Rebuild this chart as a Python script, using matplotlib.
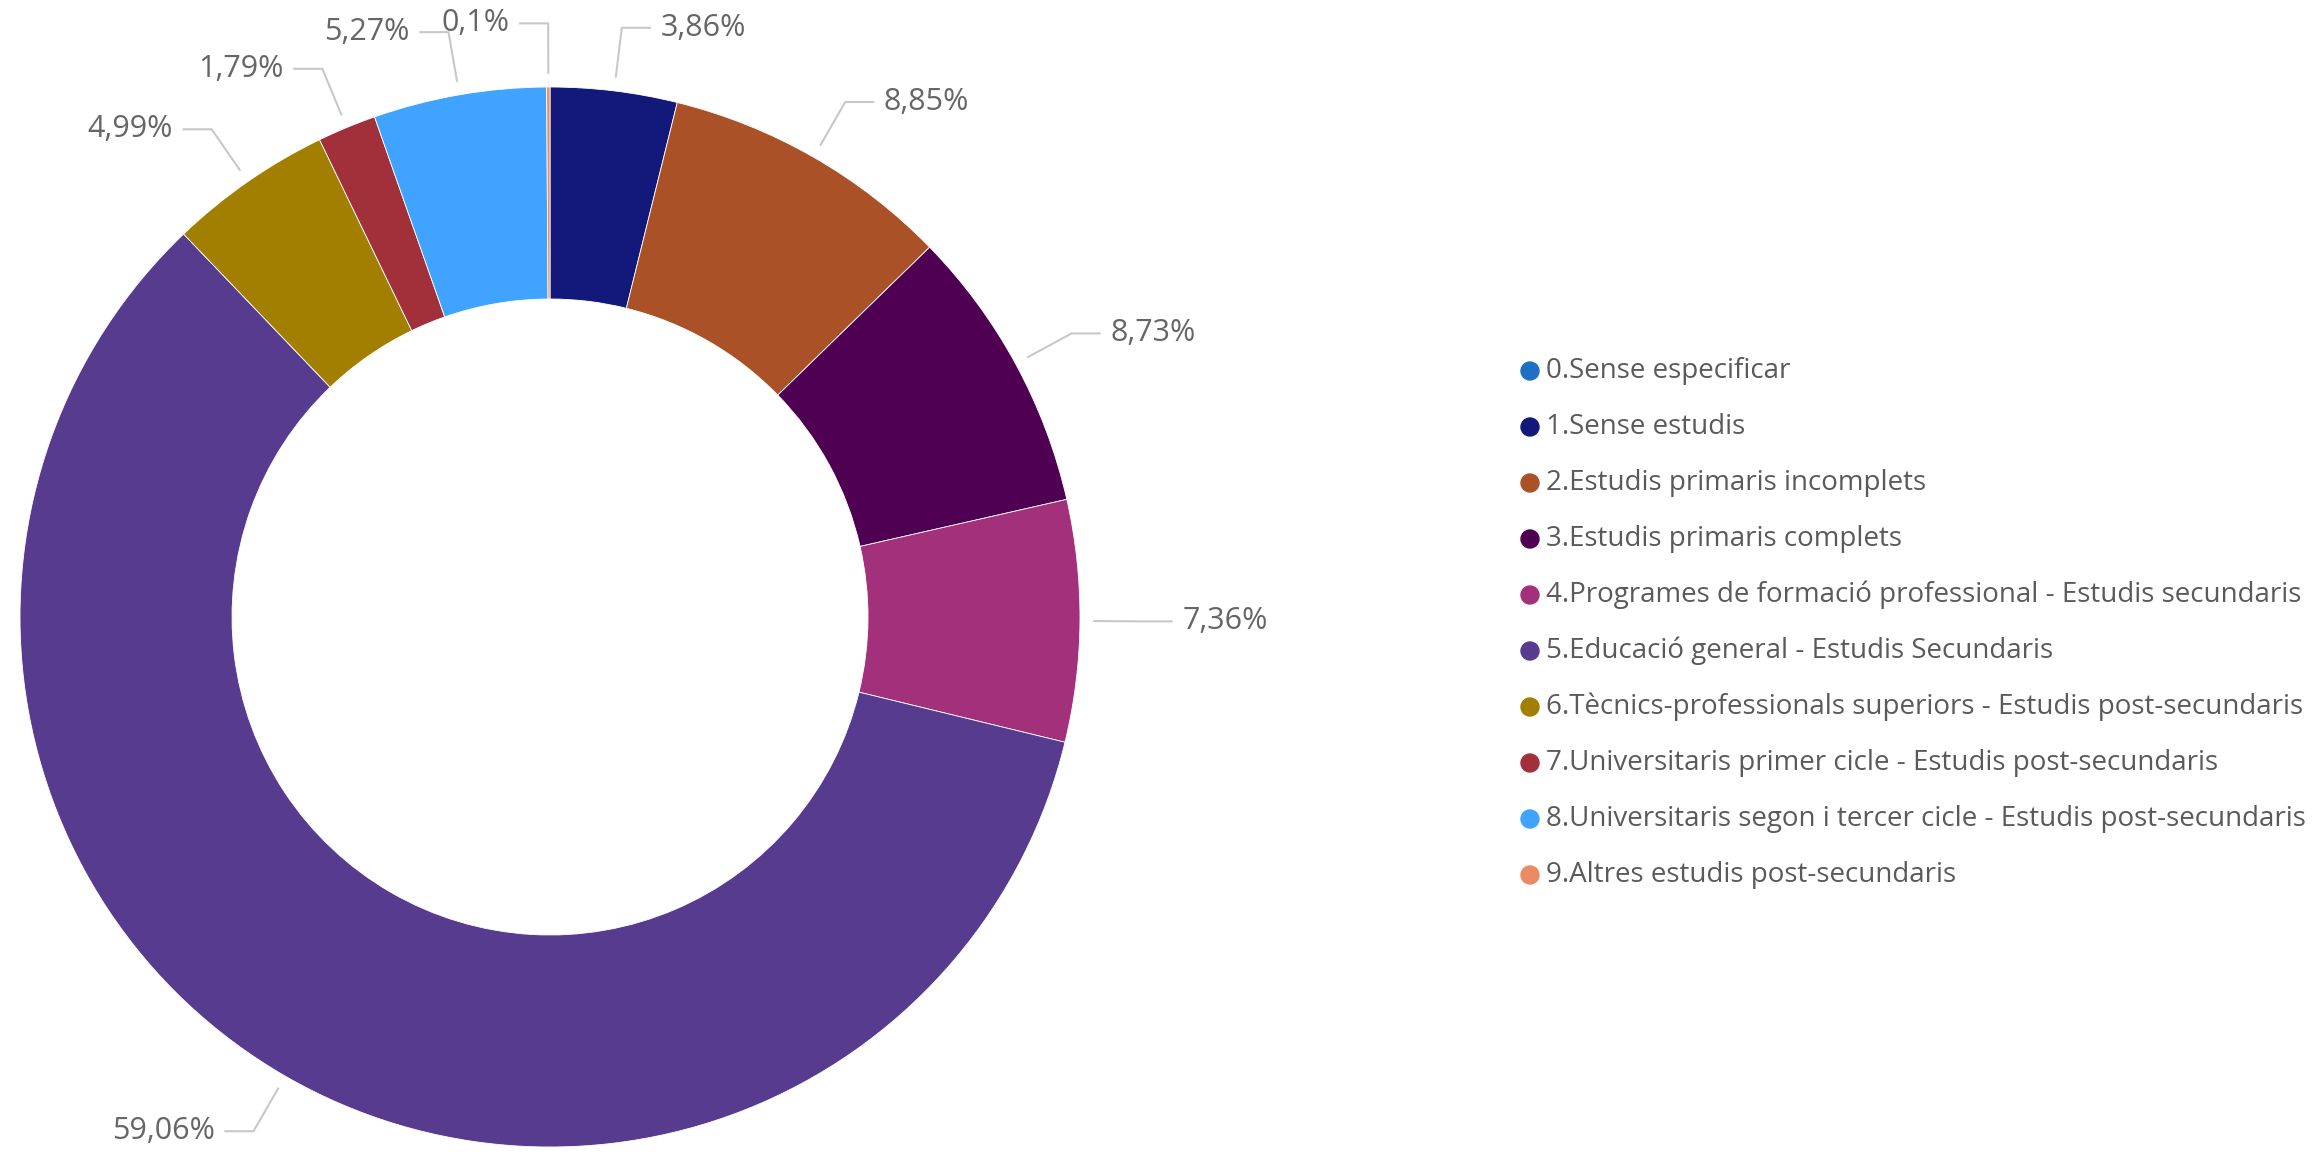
import numpy as np
import matplotlib.pyplot as plt
from matplotlib.patches import Circle

# Dades
categories = ['0.Sense especificar', '1.Sense estudis', '2.Estudis primaris incomplets',
              '3.Estudis primaris complets',
              '4.Programes de formació professional - Estudis secundaris',
              '5.Educació general - Estudis Secundaris',
              '6.Tècnics-professionals superiors - Estudis post-secundaris',
              '7.Universitaris primer cicle - Estudis post-secundaris',
              '8.Universitaris segon i tercer cicle - Estudis post-secundaris',
              '9.Altres estudis post-secundaris']
valors = [0.0, 3.86, 8.85, 8.73, 7.36, 59.06, 4.99, 1.79, 5.27, 0.1]
etiquetes = ['', '3,86%', '8,85%', '8,73%', '7,36%', '59,06%', '4,99%', '1,79%', '5,27%', '0,1%']
colors = ['#1f6fc5', '#12197a', '#ab5127', '#4f0052', '#a3307a',
          '#563b8f', '#a27f00', '#a2303b', '#3fa3ff', '#eb8a63']

W, H = 2320, 1159
fig = plt.figure(figsize=(W / 100, H / 100), dpi=100)
plt.rcParams['font.family'] = ['Open Sans', 'DejaVu Sans']

# centre del donut en pixels i radi
cx, cy, R = 550, H - 617, 530
ax = fig.add_axes([0, 0, 1, 1])

wedges, _ = ax.pie(valors, colors=colors, startangle=90, counterclock=False,
                   radius=1, wedgeprops=dict(width=0.4, edgecolor='white', linewidth=0.6))

ax.set_aspect('auto')
ax.set_xlim(-cx / R, (W - cx) / R)
ax.set_ylim(-cy / R, (H - cy) / R)
ax.axis('off')

text_color = '#666666'
line_color = '#c8c8c8'

# etiquetes amb línia guia
for w, lab, v in zip(wedges, etiquetes, valors):
    if v <= 0:
        continue
    ang = np.deg2rad((w.theta1 + w.theta2) / 2)
    x0, y0 = 1.025 * np.cos(ang), 1.025 * np.sin(ang)
    x1, y1 = 1.12 * np.cos(ang), 1.12 * np.sin(ang)
    dirx = 1 if x1 >= 0 else -1
    x2 = x1 + dirx * 0.055
    ax.plot([x0, x1, x2], [y0, y1, y1], color=line_color, lw=1.5, solid_capstyle='butt')
    ax.text(x2 + dirx * 0.018, y1, lab, ha='left' if dirx > 0 else 'right', va='center',
            fontsize=22, color=text_color)

# llegenda
y_top = H - 371
for i, (cat, col) in enumerate(zip(categories, colors)):
    yy = y_top - i * 56
    fig.patches.append(Circle((1530, yy), 9, color=col, transform=None))
    fig.text(1546 / W, yy / H, cat, ha='left', va='center', fontsize=20, color='#5a5a5a')

fig.savefig('out.png', dpi=100)
